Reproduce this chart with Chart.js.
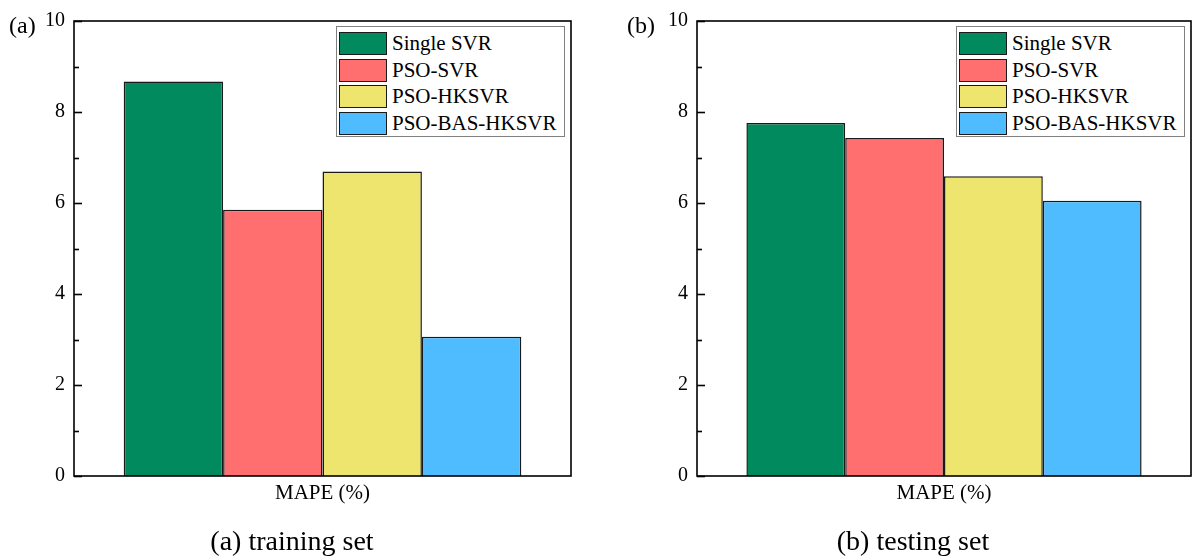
<!DOCTYPE html>
<html>
<head>
<meta charset="utf-8">
<script src="https://cdn.jsdelivr.net/npm/chart.js@4/dist/chart.umd.min.js"></script>
<style>
  html, body { margin: 0; padding: 0; background: #fff; }
  body { width: 1192px; height: 557px; overflow: hidden; position: relative;
         font-family: "Liberation Serif", "Times New Roman", serif; color: #000; }
  .panel { position: absolute; top: 0; height: 557px; }
  .panel canvas { position: absolute; left: 0; top: 0; }
  .tag { position: absolute; font-size: 24px; line-height: 24px; white-space: nowrap; }
  .caption { position: absolute; font-size: 28px; line-height: 28px; white-space: nowrap; transform: translateX(-50%); }
  .legend { position: absolute; background: #fff; border: 1px solid #808080; box-sizing: border-box;
            padding: 3px 0 0 2px; }
  .legend .row { display: flex; align-items: center; height: 26.7px; }
  .legend .sw { width: 46px; height: 21px; border: 1.5px solid #1a1a1a; box-sizing: content-box; }
  .legend .lb { margin-left: 5px; font-size: 21px; line-height: 21px; white-space: nowrap; }
</style>
</head>
<body>

<script>
// Models compared and their bar colours
const models = ["Single SVR", "PSO-SVR", "PSO-HKSVR", "PSO-BAS-HKSVR"];
const colors = ["#008a5e", "#ff6f6f", "#ede56e", "#4fbcff"];

// Category on the x axis
const categories = ["MAPE (%)"];

// MAPE values (%) for each model
const trainMAPE = [8.67, 5.85, 6.69, 3.06];
const testMAPE  = [7.76, 7.43, 6.59, 6.05];

// Y axis range and labelled tick step
const yMin = 0, yMax = 10, yStep = 2;

const FONT = '"Liberation Serif", "Times New Roman", serif';

// Closed frame around the plotting area plus inward-pointing ticks on the y axis
const frameTicks = {
  id: 'frameTicks',
  afterDraw(chart) {
    const { ctx, chartArea: a } = chart;
    const y = chart.scales.y;
    ctx.save();
    ctx.strokeStyle = '#000';
    ctx.lineWidth = 1.6;
    for (let v = yMin; v <= yMax; v += 1) {
      const py = Math.round(y.getPixelForValue(v)) + 0.5;
      const len = (v % yStep === 0) ? 8 : 5;
      ctx.beginPath();
      ctx.moveTo(a.left, py);
      ctx.lineTo(a.left + len, py);
      ctx.stroke();
    }
    ctx.strokeRect(a.left, a.top, a.right - a.left, a.bottom - a.top);
    ctx.restore();
  }
};

function makePanel(opts) {
  const panel = document.createElement('div');
  panel.className = 'panel';
  panel.style.left = opts.x + 'px';
  panel.style.width = opts.w + 'px';
  document.body.appendChild(panel);

  const canvas = document.createElement('canvas');
  canvas.width = opts.w; canvas.height = 557;
  canvas.style.width = opts.w + 'px'; canvas.style.height = '557px';
  panel.appendChild(canvas);

  const chart = new Chart(canvas, {
    type: 'bar',
    data: {
      labels: categories,
      datasets: models.map((m, i) => ({
        label: m,
        data: [opts.values[i]],
        backgroundColor: colors[i],
        borderColor: '#1a1a1a',
        borderWidth: 1.5,
        barPercentage: 1.0,
        categoryPercentage: 0.8
      }))
    },
    options: {
      responsive: false,
      animation: false,
      devicePixelRatio: 1,
      layout: { padding: { top: 18, right: opts.w - opts.plotRight, left: 0, bottom: 0 } },
      plugins: { legend: { display: false }, tooltip: { enabled: false } },
      scales: {
        x: {
          grid: { display: false, drawTicks: false },
          border: { display: false },
          ticks: { color: '#000', font: { family: FONT, size: 21 }, padding: 5 },
          afterFit: s => { s.height = 557 - 476; }
        },
        y: {
          min: yMin, max: yMax,
          grid: { display: false, drawTicks: false },
          border: { display: false },
          ticks: { stepSize: yStep, color: '#000', font: { family: FONT, size: 20 }, padding: 9 },
          afterFit: s => { s.width = opts.plotLeft; }
        }
      }
    },
    plugins: [frameTicks]
  });

  // panel tag, e.g. "(a)"
  const tag = document.createElement('div');
  tag.className = 'tag';
  tag.textContent = opts.tag;
  tag.style.left = opts.tagX + 'px';
  tag.style.top = '13px';
  panel.appendChild(tag);

  // caption below the axis
  const cap = document.createElement('div');
  cap.className = 'caption';
  cap.textContent = opts.caption;
  cap.style.left = opts.capX + 'px';
  cap.style.top = '527px';
  panel.appendChild(cap);

  // legend box in the upper right of the plotting area
  const lg = document.createElement('div');
  lg.className = 'legend';
  const a = chart.chartArea;
  lg.style.top = (a.top + 5) + 'px';
  lg.style.width = '229px';
  lg.style.height = '111px';
  lg.style.left = (a.right - 6 - 229) + 'px';
  models.forEach((m, i) => {
    const row = document.createElement('div');
    row.className = 'row';
    const sw = document.createElement('div');
    sw.className = 'sw';
    sw.style.background = colors[i];
    const lb = document.createElement('span');
    lb.className = 'lb';
    lb.textContent = m;
    row.appendChild(sw); row.appendChild(lb);
    lg.appendChild(row);
  });
  panel.appendChild(lg);
  return chart;
}

makePanel({ x: 0, w: 596, plotLeft: 74, plotRight: 571, values: trainMAPE,
            tag: '(a)', tagX: 9, caption: '(a) training set', capX: 292 });
makePanel({ x: 600, w: 592, plotLeft: 97, plotRight: 591, values: testMAPE,
            tag: '(b)', tagX: 27, caption: '(b) testing set', capX: 313 });
</script>
</body>
</html>
